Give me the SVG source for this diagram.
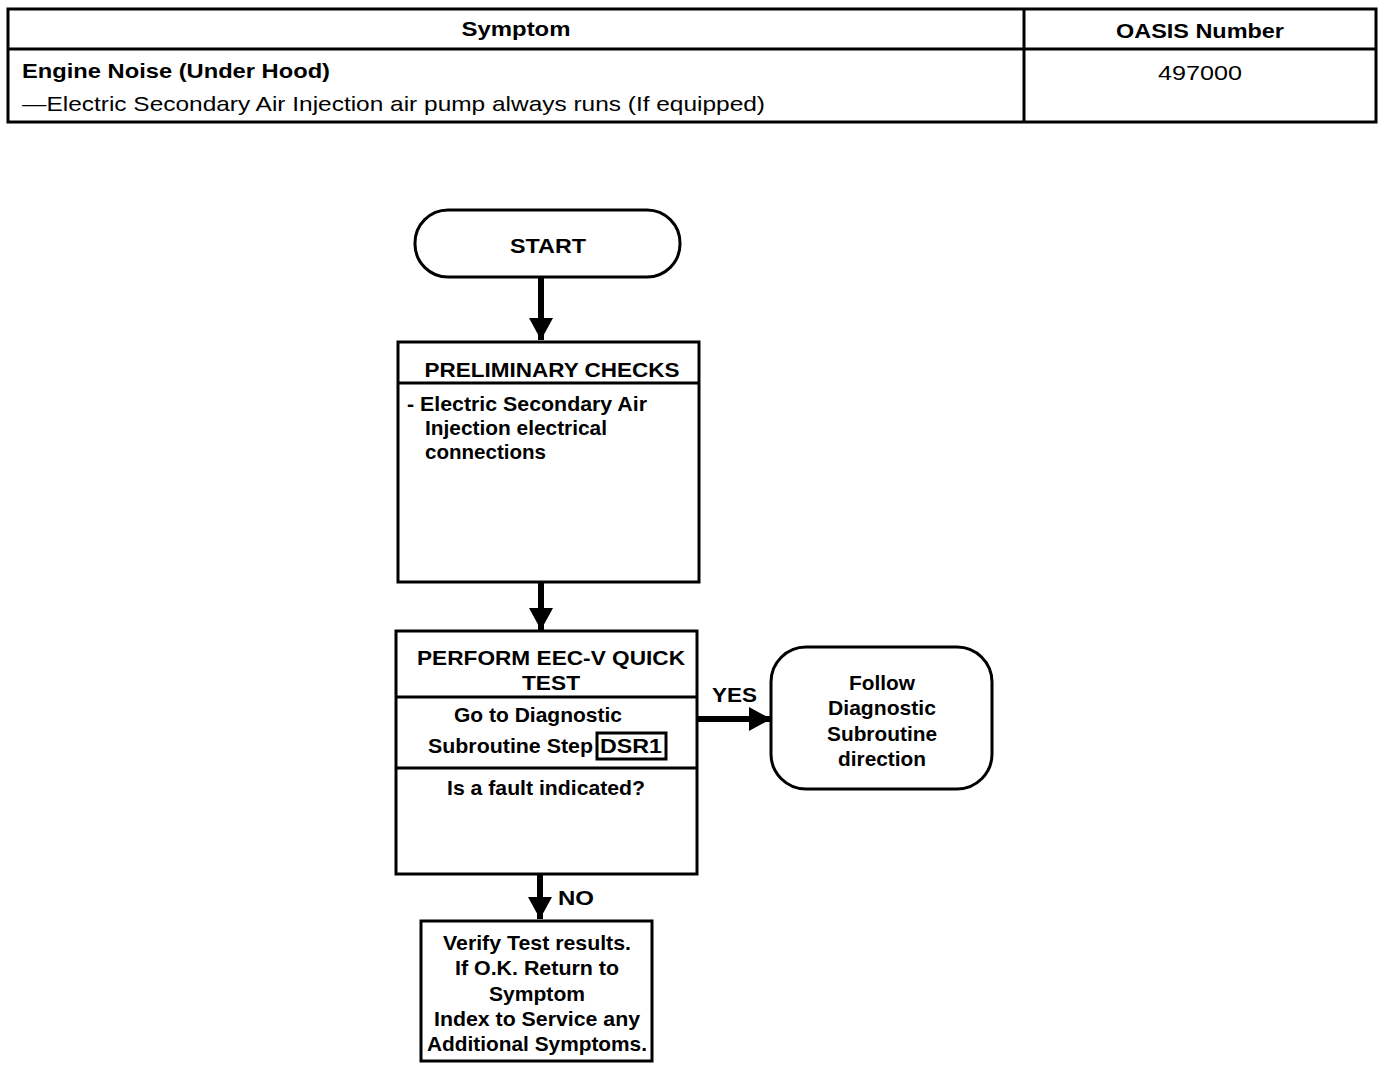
<svg xmlns="http://www.w3.org/2000/svg" width="1392" height="1070" viewBox="0 0 1392 1070">
<defs>
<style>
text{font-family:"Liberation Sans",Arial,sans-serif;font-size:21px;fill:#000;font-weight:bold}
.c{text-anchor:middle}
.n{font-weight:normal}
.box{fill:#fff;stroke:#000;stroke-width:3}
.ln{stroke:#000;stroke-width:3;fill:none}
.ar{stroke:#000;stroke-width:6;fill:none}
</style>
<marker id="ah" markerUnits="userSpaceOnUse" markerWidth="26" markerHeight="26" refX="22" refY="13" orient="auto">
<path d="M0,1 L22,13 L0,25 Z" fill="#000"/>
</marker>
</defs>
<rect width="1392" height="1070" fill="#fff"/>
<g id="table">
<rect x="8" y="9" width="1368" height="113" class="box"/>
<line x1="8" y1="49" x2="1376" y2="49" class="ln"/>
<line x1="1024" y1="9" x2="1024" y2="122" class="ln"/>
<text x="516" y="36" class="c" textLength="109" lengthAdjust="spacingAndGlyphs">Symptom</text>
<text x="1200" y="38" class="c" textLength="168" lengthAdjust="spacingAndGlyphs">OASIS Number</text>
<text x="22" y="78" textLength="308" lengthAdjust="spacingAndGlyphs">Engine Noise (Under Hood)</text>
<text x="22" y="111" class="n" textLength="743" lengthAdjust="spacingAndGlyphs">—Electric Secondary Air Injection air pump always runs (If equipped)</text>
<text x="1200" y="80" class="c n" textLength="84" lengthAdjust="spacingAndGlyphs">497000</text>
</g>
<g id="connectors">
<line x1="541" y1="277" x2="541" y2="340" class="ar" marker-end="url(#ah)"/>
<line x1="541" y1="582" x2="541" y2="630" class="ar" marker-end="url(#ah)"/>
<line x1="697" y1="719" x2="771" y2="719" class="ar" marker-end="url(#ah)"/>
<line x1="540" y1="874" x2="540" y2="919" class="ar" marker-end="url(#ah)"/>
<text x="712" y="702" textLength="45" lengthAdjust="spacingAndGlyphs">YES</text>
<text x="558" y="905" textLength="36" lengthAdjust="spacingAndGlyphs">NO</text>
</g>
<g id="start">
<rect x="415" y="210" width="265" height="67" rx="33" class="box"/>
<text x="548" y="253" class="c" textLength="76" lengthAdjust="spacingAndGlyphs">START</text>
</g>
<g id="preliminary">
<rect x="398" y="342" width="301" height="240" class="box"/>
<line x1="398" y1="383" x2="699" y2="383" class="ln"/>
<text x="552" y="377" class="c" textLength="255" lengthAdjust="spacingAndGlyphs">PRELIMINARY CHECKS</text>
<text x="407" y="411" textLength="240" lengthAdjust="spacingAndGlyphs">- Electric Secondary Air</text>
<text x="425" y="435" textLength="182" lengthAdjust="spacingAndGlyphs">Injection electrical</text>
<text x="425" y="459" textLength="121" lengthAdjust="spacingAndGlyphs">connections</text>
</g>
<g id="quicktest">
<rect x="396" y="631" width="301" height="243" class="box"/>
<line x1="396" y1="697" x2="697" y2="697" class="ln"/>
<line x1="396" y1="768" x2="697" y2="768" class="ln"/>
<text x="551" y="665" class="c" textLength="268" lengthAdjust="spacingAndGlyphs">PERFORM EEC-V QUICK</text>
<text x="551" y="690" class="c" textLength="58" lengthAdjust="spacingAndGlyphs">TEST</text>
<text x="538" y="722" class="c" textLength="168" lengthAdjust="spacingAndGlyphs">Go to Diagnostic</text>
<text x="428" y="753" textLength="165" lengthAdjust="spacingAndGlyphs">Subroutine Step</text>
<rect x="597" y="733" width="69" height="26" class="ln"/>
<text x="631" y="753" class="c" textLength="62" lengthAdjust="spacingAndGlyphs">DSR1</text>
<text x="546" y="795" class="c" textLength="198" lengthAdjust="spacingAndGlyphs">Is a fault indicated?</text>
</g>
<g id="follow">
<rect x="771" y="647" width="221" height="142" rx="35" class="box"/>
<text x="882" y="690" class="c" textLength="66" lengthAdjust="spacingAndGlyphs">Follow</text>
<text x="882" y="715" class="c" textLength="108" lengthAdjust="spacingAndGlyphs">Diagnostic</text>
<text x="882" y="741" class="c" textLength="110" lengthAdjust="spacingAndGlyphs">Subroutine</text>
<text x="882" y="766" class="c" textLength="88" lengthAdjust="spacingAndGlyphs">direction</text>
</g>
<g id="verify">
<rect x="421" y="921" width="231" height="140" class="box"/>
<text x="537" y="950" class="c" textLength="188" lengthAdjust="spacingAndGlyphs">Verify Test results.</text>
<text x="537" y="975" class="c" textLength="164" lengthAdjust="spacingAndGlyphs">If O.K. Return to</text>
<text x="537" y="1001" class="c" textLength="96" lengthAdjust="spacingAndGlyphs">Symptom</text>
<text x="537" y="1026" class="c" textLength="206" lengthAdjust="spacingAndGlyphs">Index to Service any</text>
<text x="537" y="1051" class="c" textLength="220" lengthAdjust="spacingAndGlyphs">Additional Symptoms.</text>
</g>
</svg>
